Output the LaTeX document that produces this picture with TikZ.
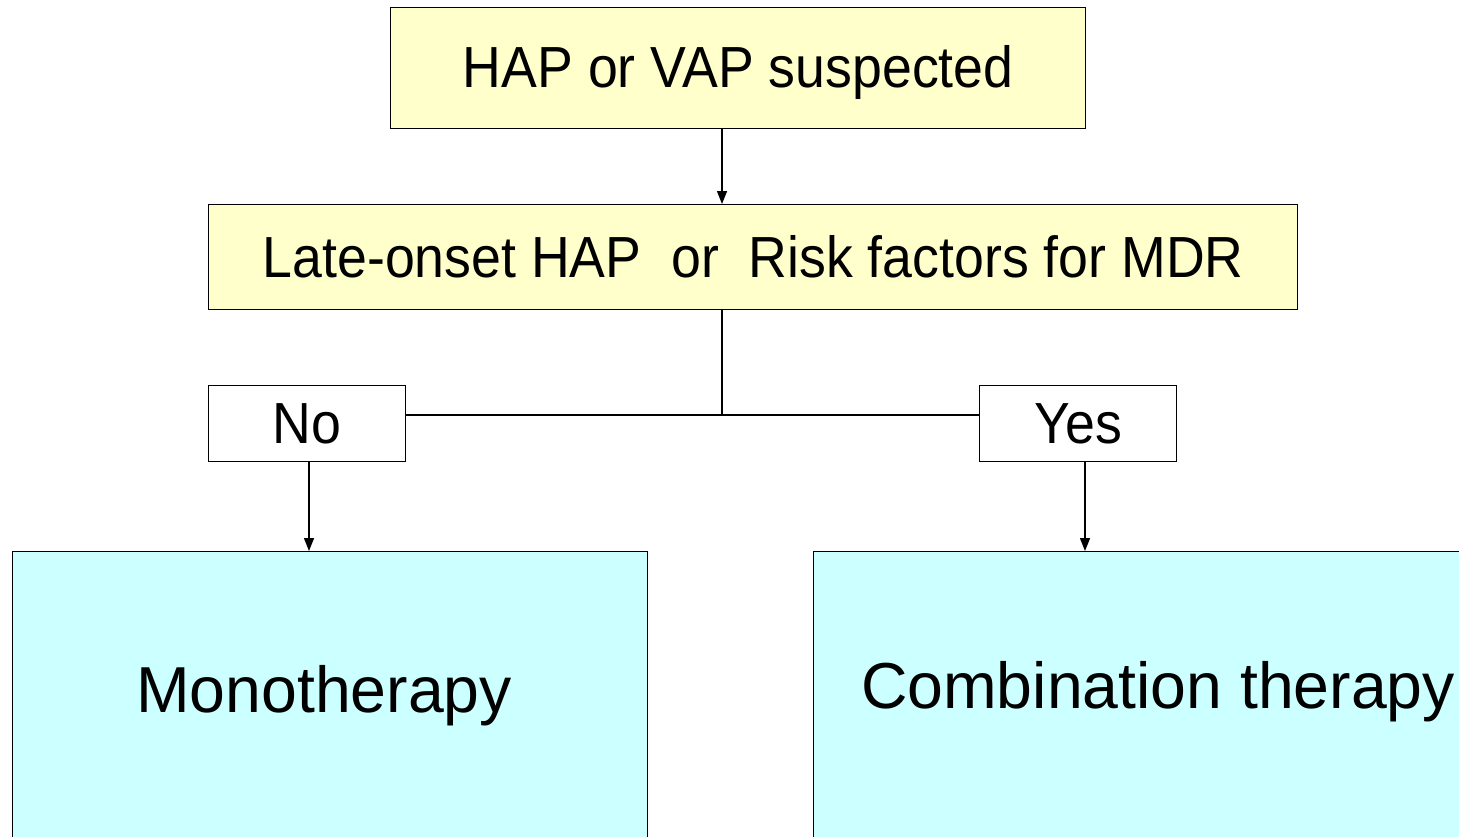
\documentclass[tikz,border=0pt]{standalone}
\usepackage{fontspec}
\setmainfont{Liberation Sans}[FakeStretch=0.925]
\newfontfamily\bigfont{Liberation Sans}[FakeStretch=0.99]
\usetikzlibrary{arrows.meta}
\definecolor{boxyellow}{HTML}{FFFFCC}
\definecolor{boxcyan}{HTML}{CCFFFF}
\begin{document}
\begin{tikzpicture}[x=1pt,y=-1pt,
  box/.style={draw=black, line width=1.4pt, rectangle, inner sep=0pt, anchor=north west, align=center},
  ybox/.style={box, fill=boxyellow},
  cbox/.style={box, fill=boxcyan},
  wbox/.style={box, fill=white},
  midtxt/.style={font=\fontsize{58}{60}\selectfont},
  bigtxt/.style={font=\bigfont\fontsize{65}{68}\selectfont, anchor=base, inner sep=0pt},
  conn/.style={draw=black, line width=1.4pt},
  arr/.style={conn, -{Triangle[length=13pt,width=10pt]}}]
\useasboundingbox (0,0) rectangle (1459,836);
\clip (0,0) rectangle (1459,836);
\fill[white] (0,0) rectangle (1459,836);
\node[ybox, midtxt, minimum width=695pt, minimum height=121pt, text depth=3pt] (top) at (390,7) {HAP or VAP suspected};
\node[ybox, midtxt, minimum width=1089pt, minimum height=105pt] (mid) at (208,204) {Late-onset HAP\ \ or\ \ Risk factors for MDR};
\node[wbox, midtxt, minimum width=197pt, minimum height=76pt] (no) at (208,385) {No};
\node[wbox, midtxt, minimum width=197pt, minimum height=76pt] (yes) at (979,385) {Yes};
\node[cbox, minimum width=635pt, minimum height=400pt] (mono) at (12,551) {};
\node[cbox, minimum width=700pt, minimum height=400pt] (comb) at (813,551) {};
\node[bigtxt] (monotxt) at (324,712) {Monotherapy};
\node[bigtxt] (combtxt) at (1158,708) {Combination therapy};
\coordinate (j) at (722,415);
\coordinate (nx) at (309,0);
\coordinate (yx) at (1085,0);
\draw[arr] (top.south -| j) -- (mid.north -| j);
\draw[conn] (mid.south -| j) -- (j);
\draw[conn] (no.east |- j) -- (yes.west |- j);
\draw[arr] (no.south -| nx) -- (mono.north -| nx);
\draw[arr] (yes.south -| yx) -- (comb.north -| yx);
\end{tikzpicture}
\end{document}
